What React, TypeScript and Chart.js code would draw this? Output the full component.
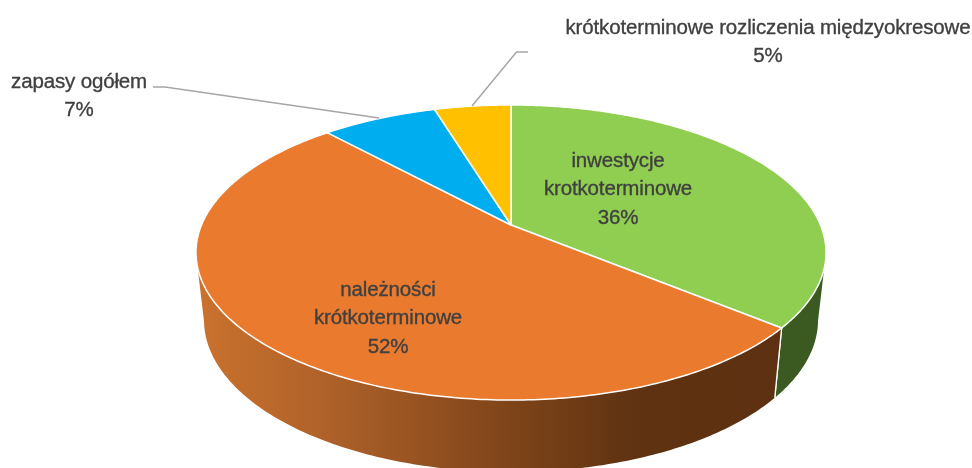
import React, { useEffect, useRef } from "react";
import { Chart, ArcElement, PieController } from "chart.js";

const categoryLines = [
  ["inwestycje", "krotkoterminowe"],
  ["należności", "krótkoterminowe"],
  ["zapasy ogółem"],
  ["krótkoterminowe rozliczenia międzyokresowe"],
];
const values = [36.0, 52.2, 7.1, 4.7];
const topColors = ["#8FCE50", "#E97A2E", "#00AEEF", "#FFC000"];

const labelX = [618, 388, 79, 768];
const labelY = [161, 290, 82, 28];
const LINE_H = 28.7;

const rimStops: [number, string][][] = [
  [[0, "#3A5A22"], [1, "#3A5A22"]],
  [[0, "#CB722D"], [0.2, "#B0622A"], [0.5, "#7E4419"], [0.7, "#5F3211"], [1, "#5C3011"]],
  [[0, "#fff"], [1, "#fff"]],
  [[0, "#fff"], [1, "#fff"]],
];

// Projection of the unit disc onto the tilted pie top
const CX = 511;
const APEX_Y = 225;
const K = 0.18644;
const A = 309.5;
const B = 142.4;
const TOP = { cy: 252.5, rx: 315, ry: 147.5 };
const BOT = { cy: 320, rx: 307, ry: 152 };

const project = (a: number) => {
  const u = Math.cos(a);
  const v = Math.sin(a);
  const w = 1 - K * v;
  return { x: CX + (A * u) / w, y: APEX_Y + (B * v) / w };
};
const lower = (p: { x: number; y: number }) => ({
  x: CX + ((p.x - CX) / TOP.rx) * BOT.rx,
  y: BOT.cy + ((p.y - TOP.cy) / TOP.ry) * BOT.ry,
});

let sliceCounter = 0;

class Arc3D extends ArcElement {
  static id = "arc3d";
  draw(ctx: CanvasRenderingContext2D) {
    const { startAngle, endAngle } = this as any;
    const opts = (this as any).options;
    const idx = sliceCounter++ % values.length;
    const N = 240;
    const pts = [];
    for (let i = 0; i <= N; i++) pts.push(project(startAngle + ((endAngle - startAngle) * i) / N));

    const front = pts.filter((p) => p.y >= TOP.cy);
    if (front.length > 1) {
      const g = ctx.createLinearGradient(196, 0, 826, 0);
      rimStops[idx].forEach(([o, c]) => g.addColorStop(o, c));
      ctx.beginPath();
      front.forEach((p, i) => (i ? ctx.lineTo(p.x, p.y) : ctx.moveTo(p.x, p.y)));
      [...front].reverse().forEach((p) => {
        const q = lower(p);
        ctx.lineTo(q.x, q.y);
      });
      ctx.closePath();
      ctx.fillStyle = g;
      ctx.fill();
      ctx.strokeStyle = "#fff";
      ctx.lineWidth = 1.3;
      [pts[0], pts[N]].forEach((p) => {
        if (p.y > TOP.cy) {
          const q = lower(p);
          ctx.beginPath();
          ctx.moveTo(p.x, p.y);
          ctx.lineTo(q.x, q.y);
          ctx.stroke();
        }
      });
    }

    ctx.beginPath();
    ctx.moveTo(CX, APEX_Y);
    pts.forEach((p) => ctx.lineTo(p.x, p.y));
    ctx.closePath();
    ctx.fillStyle = opts.backgroundColor;
    ctx.fill();
    ctx.strokeStyle = opts.borderColor;
    ctx.lineWidth = opts.borderWidth;
    ctx.lineJoin = "round";
    ctx.stroke();
  }
}

class Pie3DController extends PieController {
  static id = "pie3d";
  static defaults = { dataElementType: "arc3d" };
}

Chart.register(Arc3D, Pie3DController);

const leaderLines: [number, number][][] = [
  [[153, 87], [165, 87], [379, 118]],
  [[528, 52], [516.5, 52], [472, 106]],
];

const labelsPlugin = {
  id: "labels3d",
  afterDatasetsDraw(chart: any) {
    const ctx: CanvasRenderingContext2D = chart.ctx;
    ctx.save();
    ctx.strokeStyle = "#A6A6A6";
    ctx.lineWidth = 1.5;
    leaderLines.forEach((l) => {
      ctx.beginPath();
      l.forEach(([x, y], i) => (i ? ctx.lineTo(x, y) : ctx.moveTo(x, y)));
      ctx.stroke();
    });
    const total = values.reduce((s, v) => s + v, 0);
    ctx.fillStyle = "#404040";
    ctx.strokeStyle = "#404040";
    ctx.lineWidth = 0.35;
    ctx.font = '20.5px "Liberation Sans"';
    (ctx as any).letterSpacing = "-0.15px";
    ctx.textAlign = "center";
    ctx.textBaseline = "middle";
    categoryLines.forEach((lines, i) => {
      const rows = [...lines, `${Math.round((values[i] / total) * 100)}%`];
      rows.forEach((t, r) => {
        ctx.fillText(t, labelX[i], labelY[i] + r * LINE_H);
        ctx.strokeText(t, labelX[i], labelY[i] + r * LINE_H);
      });
    });
    ctx.restore();
  },
};

export default function App() {
  const ref = useRef<HTMLCanvasElement>(null);
  useEffect(() => {
    document.body.style.margin = "0";
    sliceCounter = 0;
    const chart = new Chart(ref.current as HTMLCanvasElement, {
      type: "pie3d" as any,
      data: {
        labels: categoryLines.map((l) => l.join(" ")),
        datasets: [
          {
            data: values,
            backgroundColor: topColors,
            borderColor: "#FFFFFF",
            borderWidth: 1.5,
          },
        ],
      },
      options: {
        responsive: false,
        animation: false,
        events: [],
        plugins: { legend: { display: false }, tooltip: { enabled: false } },
      },
      plugins: [labelsPlugin],
    } as any);
    return () => chart.destroy();
  }, []);
  return (
    <div style={{ width: 972, height: 468 }}>
      <canvas ref={ref} width={972} height={468} style={{ display: "block" }} />
    </div>
  );
}
